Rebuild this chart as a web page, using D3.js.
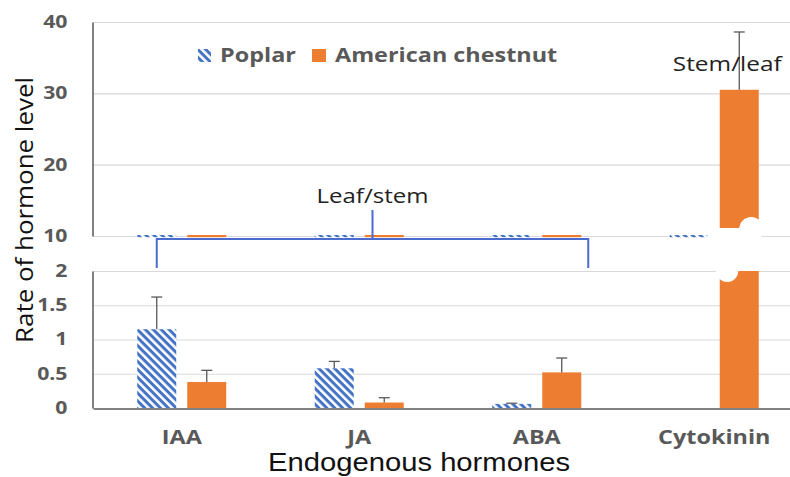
<!DOCTYPE html>
<html><head><meta charset="utf-8">
<script src="https://cdn.jsdelivr.net/npm/d3@7"></script>
<style>
html,body{margin:0;padding:0;background:#fff;}
svg{display:block;font-family:"Open Sans",sans-serif;}
</style></head>
<body><svg id="c" width="790" height="477"></svg>
<script>
const categories = ["IAA", "JA", "ABA", "Cytokinin"];
const seriesNames = ["Poplar", "American chestnut"];
const poplar = [1.15, 0.58, 0.06, 0];
const poplarErr = [0.47, 0.10, 0.01, 0];
const chestnut = [0.38, 0.08, 0.52, 30.5];
const chestnutErr = [0.17, 0.07, 0.21, 8.1];
const topTicks = [10, 20, 30, 40];
const bottomTicks = [0, 0.5, 1, 1.5, 2];

const BLUE = "#4472C4", ORANGE = "#ED7D31", GRID = "#d9d9d9", AX = "#595959";
const svg = d3.select("#c");
const defs = svg.append("defs");
const pat = defs.append("pattern").attr("id", "hatch").attr("patternUnits", "userSpaceOnUse")
  .attr("width", 10).attr("height", 5.6).attr("patternTransform", "rotate(45)");
pat.append("rect").attr("width", 10).attr("height", 5.6).attr("fill", "#fff");
pat.append("rect").attr("width", 10).attr("height", 3).attr("fill", BLUE);

const x0 = 93, x1 = 803;
const x = d3.scaleBand().domain(categories).range([x0, x1]).paddingInner(0).paddingOuter(0);
const xs = d3.scaleBand().domain(seriesNames).range([44.25, 133.25]).paddingInner(0.22).paddingOuter(0);
const bw = xs.bandwidth();
const yTop = d3.scaleLinear().domain([10, 40]).range([236, 22]);
const yBot = d3.scaleLinear().domain([0, 2]).range([408, 271]);

function stretch(sel, k) {
  sel.each(function () {
    const w = this.getComputedTextLength();
    d3.select(this).attr("textLength", w * k).attr("lengthAdjust", "spacingAndGlyphs");
  });
}

// gridlines
const gTop = svg.append("g");
gTop.selectAll("line").data(topTicks).join("line")
  .attr("x1", x0).attr("x2", 790).attr("y1", d => yTop(d) + 0.5).attr("y2", d => yTop(d) + 0.5)
  .attr("stroke", GRID).attr("stroke-width", 1.2);
const gBot = svg.append("g");
gBot.selectAll("line").data(bottomTicks.slice(1)).join("line")
  .attr("x1", x0).attr("x2", 790).attr("y1", d => yBot(d) + 0.5).attr("y2", d => yBot(d) + 0.5)
  .attr("stroke", GRID).attr("stroke-width", 1.2);

// axes
const axTop = svg.append("g").attr("transform", `translate(${x0 - 0.5},0)`)
  .call(d3.axisLeft(yTop).tickValues(topTicks).tickSize(0).tickPadding(25));
const axBot = svg.append("g").attr("transform", `translate(${x0 - 0.5},0)`)
  .call(d3.axisLeft(yBot).tickValues(bottomTicks).tickFormat(d3.format("~g")).tickSize(0).tickPadding(25));
[axTop, axBot].forEach(a => {
  a.select(".domain").attr("stroke", AX).attr("stroke-width", 1.5);
  a.selectAll("text").attr("fill", AX).attr("font-size", 17).attr("font-weight", "bold")
    .attr("font-family", "'Open Sans',sans-serif").call(stretch, 1.25);
});

// series data
const series = seriesNames.map((s, i) => ({
  name: s,
  fill: i === 0 ? "url(#hatch)" : ORANGE,
  vals: categories.map((c, j) => ({ cat: c, v: i === 0 ? poplar[j] : chestnut[j], e: i === 0 ? poplarErr[j] : chestnutErr[j] }))
}));

// bars
series.forEach(s => {
  svg.append("g").selectAll("rect").data(s.vals).join("rect")
    .attr("x", d => x(d.cat) + xs(s.name)).attr("width", bw)
    .attr("y", d => yBot(Math.min(d.v, 2))).attr("height", d => yBot(0) - yBot(Math.min(d.v, 2)))
    .attr("fill", s.fill);
  svg.append("g").selectAll("rect").data(s.vals).join("rect")
    .attr("x", d => x(d.cat) + xs(s.name)).attr("width", bw)
    .attr("y", d => d.v > 10 ? yTop(d.v) : yTop(10) - 1)
    .attr("height", d => d.v > 10 ? yTop(10) - yTop(d.v) : 2.2)
    .attr("fill", s.fill);
});

// break overlay for tall bar
series.forEach(s => s.vals.filter(d => d.v > 2).forEach(d => {
  const cx = x(d.cat) + xs(s.name) + bw / 2;
  const yb = yTop(10) - 8, ye = yBot(2);
  const g = svg.append("g").attr("fill", "#fff");
  g.append("rect").attr("x", cx - 32).attr("width", 54).attr("y", yb).attr("height", ye - yb);
  g.append("circle").attr("cx", cx + 12).attr("cy", yb + 1).attr("r", 12);
  g.append("circle").attr("cx", cx - 12).attr("cy", ye).attr("r", 11);
}));

// error bars
series.forEach(s => s.vals.filter(d => d.e > 0).forEach(d => {
  const cx = x(d.cat) + xs(s.name) + bw / 2;
  const yy = d.v > 10 ? yTop : yBot;
  const g = svg.append("g").attr("stroke", AX).attr("stroke-width", 1.3);
  g.append("line").attr("x1", cx).attr("x2", cx).attr("y1", yy(d.v)).attr("y2", yy(d.v + d.e));
  g.append("line").attr("x1", cx - 5.5).attr("x2", cx + 5.5).attr("y1", yy(d.v + d.e)).attr("y2", yy(d.v + d.e));
}));

// bottom axis
const axX = svg.append("g").attr("transform", `translate(0,${yBot(0) + 0.5})`)
  .call(d3.axisBottom(x).tickSize(0));
axX.select(".domain").attr("stroke", AX).attr("stroke-width", 1.5);
axX.selectAll("text").attr("y", 35).attr("dy", 0).attr("fill", AX).attr("font-size", 20)
  .attr("font-weight", "bold").attr("font-family", "'Open Sans',sans-serif").call(stretch, 1.17);

// bracket annotation
const bl = x("IAA") + xs("Poplar") + bw / 2;
const br = x("ABA") + xs("American chestnut") + bw + 7;
const bm = (bl + br) / 2;
const by = 239;
svg.append("path").attr("d", `M${bl},${yBot(2) - 3}V${by}H${br}V${yBot(2) - 3}M${bm},${by}V210`)
  .attr("fill", "none").attr("stroke", "#4a6cd0").attr("stroke-width", 2);
svg.append("text").attr("x", bm).attr("y", 203).attr("text-anchor", "middle")
  .attr("font-size", 20).attr("fill", "#222").text("Leaf/stem").call(stretch, 1.2);
svg.append("text").attr("x", x("Cytokinin") + xs("American chestnut") + bw / 2 - 12).attr("y", 71).attr("text-anchor", "middle")
  .attr("font-size", 20).attr("fill", "#222").text("Stem/leaf").call(stretch, 1.22);

// legend
const lg = svg.append("g");
lg.append("rect").attr("x", 198).attr("y", 49).attr("width", 13).attr("height", 13).attr("fill", "url(#hatch)");
lg.append("text").attr("x", 220).attr("y", 62).attr("font-size", 20).attr("font-weight", "bold").attr("fill", AX)
  .text(seriesNames[0]).call(stretch, 1.17);
lg.append("rect").attr("x", 312).attr("y", 49).attr("width", 14).attr("height", 13).attr("fill", ORANGE);
lg.append("text").attr("x", 335).attr("y", 62).attr("font-size", 20).attr("font-weight", "bold").attr("fill", AX)
  .text(seriesNames[1]).call(stretch, 1.17);

// axis titles
svg.append("text").attr("transform", "translate(33,210) rotate(-90)").attr("text-anchor", "middle")
  .attr("font-size", 24).attr("fill", "#111").text("Rate of hormone level").call(stretch, 1.08);
svg.append("text").attr("x", 419).attr("y", 471).attr("text-anchor", "middle")
  .attr("font-family", "'Liberation Sans',Arial,sans-serif")
  .attr("font-size", 25).attr("fill", "#111").text("Endogenous hormones")
  .each(function () { d3.select(this).attr("textLength", 302).attr("lengthAdjust", "spacingAndGlyphs"); });
</script></body></html>
